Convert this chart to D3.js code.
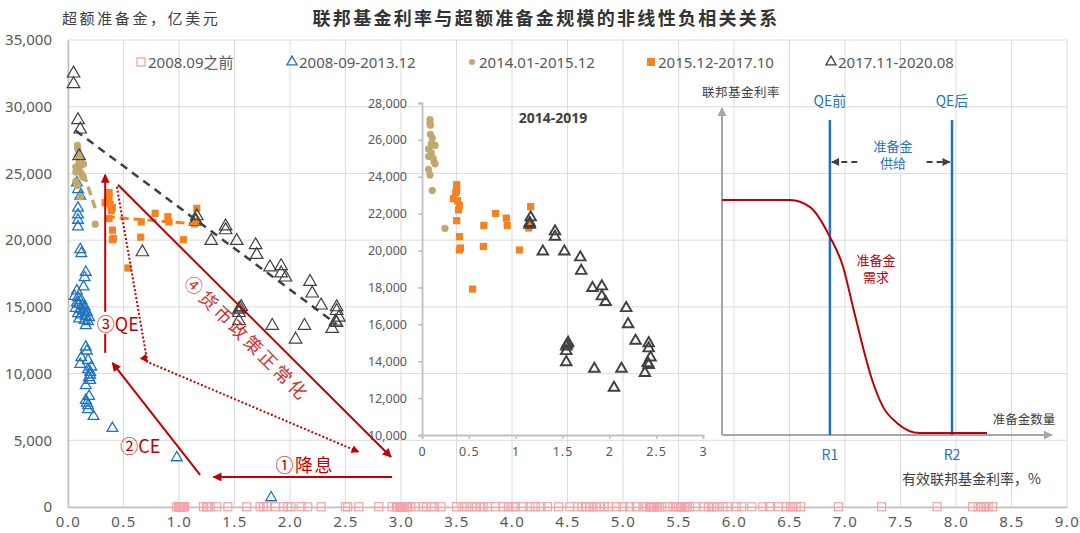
<!DOCTYPE html>
<html lang="zh">
<head>
<meta charset="UTF-8">
<title>联邦基金利率与超额准备金规模</title>
<script src="https://cdn.jsdelivr.net/npm/d3@7"></script>
<style>
  body { margin: 0; background: #fff; }
  svg { display: block; font-family: "Noto Sans CJK SC", "Noto Sans", sans-serif; }
</style>
</head>
<body>
<div id="chart"></div>
<script>
// ---- data: [effective fed funds rate %, excess reserves 亿美元] ----
const pre2008 = [
  [0.98,15],[1.0,22],[1.0,18],[1.01,30],[1.0,12],[1.02,25],[1.03,20],[1.0,35],[1.01,16],[1.04,28],[1.05,14],
  [1.22,20],[1.25,26],[1.26,15],[1.28,33],[1.34,18],[1.44,22],[1.61,17],[1.73,24],[1.76,19],[1.79,31],
  [1.87,15],[1.94,21],[1.98,27],[2.01,16],[2.1,23],[2.16,18],[2.28,20],[2.5,25],[2.52,14],[2.62,19],[2.8,22],
  [2.92,17],[2.96,24],[2.97,13],[2.99,28],[3.0,18],[3.0,22],[3.0,15],[3.01,30],[3.02,19],[3.03,25],[3.05,16],
  [3.06,21],[3.09,27],[3.13,18],[3.2,23],[3.23,15],[3.27,29],[3.3,20],[3.36,17],
  [3.5,22],[3.55,18],[3.59,26],[3.64,14],[3.68,21],[3.72,19],[3.74,28],[3.78,16],[3.85,23],
  [3.92,18],[3.97,25],[4.01,15],[4.03,22],[4.1,20],[4.16,17],[4.21,27],[4.26,19],[4.32,23],
  [4.42,16],[4.52,21],[4.59,18],[4.63,25],[4.67,14],[4.7,22],[4.73,19],[4.76,27],[4.79,16],[4.83,23],[4.87,20],
  [4.94,17],[5.0,24],[5.06,15],[5.12,21],[5.18,18],[5.21,26],[5.24,20],[5.25,14],[5.26,23],[5.27,17],[5.28,29],
  [5.3,19],[5.31,22],[5.33,16],[5.35,25],[5.4,18],[5.45,21],[5.48,15],[5.5,27],[5.52,19],[5.53,23],[5.55,17],
  [5.56,20],[5.58,26],[5.6,14],[5.65,22],[5.73,18],[5.77,25],[5.8,16],[5.82,21],[5.85,19],[5.9,27],[5.94,15],
  [6.02,23],[6.07,18],[6.16,20],[6.26,17],[6.32,24],[6.4,19],[6.47,22],[6.51,16],[6.53,25],[6.56,18],[6.6,21],
  [6.94,20],[7.33,18],[7.83,22],[8.15,19],[8.2,24],[8.23,16],[8.25,21],[8.27,27],[8.29,18],[8.33,23]
]

const crisisQE = [
  [0.08,24300],[0.09,23800],[0.11,23300],[0.09,22400],[0.09,21900],[0.09,21500],[0.09,21000],
  [0.11,19300],[0.12,19000],[0.16,17600],[0.15,17200],[0.14,16500],[0.08,16200],
  [0.06,15800],[0.09,15700],[0.12,15500],[0.08,15300],[0.1,15200],[0.13,15100],[0.15,15000],[0.07,14900],
  [0.11,14800],[0.14,14700],[0.17,14600],[0.09,14500],[0.12,14400],[0.16,14300],[0.19,14200],[0.1,14100],
  [0.15,14000],[0.18,13900],[0.16,13600],
  [0.16,12000],[0.17,11700],[0.12,11200],[0.18,11000],[0.11,10700],[0.21,10500],[0.18,10300],[0.2,10100],
  [0.2,9900],[0.19,9700],[0.2,9500],[0.16,9100],[0.19,8300],[0.16,8000],[0.17,7800],[0.18,7600],[0.18,7300],
  [0.23,6800],[0.4,5900],[0.98,3700],[1.83,700]
]

const y2014_2015 = [
  [0.085,27100],[0.085,26900],[0.09,26800],[0.09,26300],[0.11,26100],[0.1,25800],[0.13,25700],[0.14,25700],
  [0.07,25500],[0.1,25300],[0.07,25100],[0.12,25000],[0.13,24800],[0.14,24700],[0.07,24400],[0.085,24100],
  [0.11,23250],[0.245,21200]
]

const y2015_2017 = [
  [0.37,23570],[0.37,23250],[0.36,23140],[0.335,22810],[0.38,22700],[0.4,22450],[0.39,22200],[0.37,21620],
  [0.4,20750],[0.4,20030],[0.41,20140],[0.54,17910],[0.655,20220],[0.66,21360],[0.785,22010],[0.9,21760],
  [0.91,21360],[1.04,20030],[1.16,22380],[1.14,21220],[1.15,21430]
]

const y2017_2019 = [
  [1.16,21800],[1.15,21500],[1.15,21400],[1.42,21040],[1.42,20750],[1.29,19950],[1.52,19950],[1.69,19630],
  [1.70,18900],[1.82,17970],[1.92,18060],[1.92,17520],[1.96,17210],[2.18,16880],[2.2,16010],[2.28,15110],
  [2.42,14980],[2.42,14700],[2.44,14200],[2.41,13900],[2.42,13800],[2.38,13360],[1.54,14800],[1.55,14900],
  [1.56,15000],[1.54,14550],[1.54,13950],[1.84,13590],[2.13,13590],[2.05,12560]
]
const y2020 = [[0.05,32500],[0.05,31700],[0.09,29000],[0.11,28300],[0.1,26300],[0.67,19100]]

// dashed trend lines
const trendGold = [[0.1,26000],[0.245,22400]]
const trendOrange = [[0.34,21750],[1.18,21200]]
const trendDark = [[0.07,28200],[2.42,13700]]

const xTicks = [0,0.5,1,1.5,2,2.5,3,3.5,4,4.5,5,5.5,6,6.5,7,7.5,8,8.5,9]
const yTicks = [0,5000,10000,15000,20000,25000,30000,35000]
const insetXTicks = [0,0.5,1,1.5,2,2.5,3]
const insetYTicks = [10000,12000,14000,16000,18000,20000,22000,24000,26000,28000]

const legendItems = ['2008.09之前','2008-09-2013.12','2014.01-2015.12','2015.12-2017.10','2017.11-2020.08']

// schematic: reserve demand curve (concept units 0-10)
const demandCurve = [[0,7.19],[2.06,7.19],[2.67,6.97],[3.27,6.06],[3.67,5.14],[3.97,3.91],[4.27,2.69],
  [4.55,1.68],[4.88,0.86],[5.3,0.37],[6.0,0.06],[8.03,0.06]]
const supplyLines = [{name:'R1', top:'QE前', at:3.27}, {name:'R2', top:'QE后', at:6.97}]

// ---- setup ----
const W = 1080, H = 533
const svg = d3.select('#chart').append('svg').attr('width', W).attr('height', H)

const x = d3.scaleLinear().domain([0, 9]).range([68, 1067])
const y = d3.scaleLinear().domain([0, 35000]).range([507, 40])
const ix = d3.scaleLinear().domain([0, 3]).range([422, 703])
const iy = d3.scaleLinear().domain([10000, 28000]).range([435, 103])
const cx = d3.scaleLinear().domain([0, 10]).range([722, 1052])
const cy = d3.scaleLinear().domain([0, 10]).range([435, 108])

const RED = '#c00000', BLUE = '#1f74c2', PINK = '#f4a3a8', GOLD = '#bfa96c', ORANGE = '#f58220', DARK = '#404040'
const GRID = '#dcdcdc', AXIS = '#bfbfbf', LABEL = '#595959'

const defs = svg.append('defs')
function arrowMarker(id, color, w, h) {
  defs.append('marker').attr('id', id)
    .attr('viewBox', '0 0 10 10').attr('refX', 9).attr('refY', 5)
    .attr('markerWidth', w).attr('markerHeight', h)
    .attr('markerUnits', 'userSpaceOnUse').attr('orient', 'auto')
    .append('path').attr('d', 'M0,0L10,5L0,10z').attr('fill', color)
}
arrowMarker('arRed', RED, 11, 9)
arrowMarker('arRedSmall', RED, 9, 8)
arrowMarker('arGray', '#a6a6a6', 11, 9)
arrowMarker('arDark', DARK, 9, 8)

// ---- titles ----
svg.append('text').attr('x', 62).attr('y', 24)
  .attr('font-size', 15).attr('letter-spacing', 2.6).attr('fill', DARK)
  .text('超额准备金，亿美元')
svg.append('text').attr('x', 546).attr('y', 25).attr('text-anchor', 'middle')
  .attr('font-size', 18).attr('font-weight', 'bold').attr('letter-spacing', 2.3).attr('fill', '#333')
  .text('联邦基金利率与超额准备金规模的非线性负相关关系')

// ---- grid ----
const grid = svg.append('g')
grid.selectAll('.gx').data(xTicks).join('line')
  .attr('x1', d => x(d)).attr('x2', d => x(d)).attr('y1', y(35000)).attr('y2', y(0))
  .attr('stroke', GRID)
grid.selectAll('.gy').data(yTicks).join('line')
  .attr('x1', x(0)).attr('x2', x(9)).attr('y1', d => y(d)).attr('y2', d => y(d))
  .attr('stroke', GRID)

// ---- main axes ----
const xAxis = svg.append('g').attr('transform', `translate(0,${y(0)})`)
  .call(d3.axisBottom(x).tickValues(xTicks).tickFormat(d3.format('.1f')).tickSize(0).tickPadding(9))
const yAxis = svg.append('g').attr('transform', `translate(${x(0)},0)`)
  .call(d3.axisLeft(y).tickValues(yTicks).tickFormat(d3.format(',')).tickSize(0).tickPadding(16))
;[xAxis, yAxis].forEach(a => {
  a.select('.domain').attr('stroke', AXIS).attr('stroke-width', 1.5)
  a.selectAll('text').attr('font-size', 15).attr('fill', LABEL).attr('font-family', '"Noto Sans", sans-serif')
})
xAxis.selectAll('text').attr('letter-spacing', 1.5)

// ---- legend ----
const legX = [141, 292, 472, 651, 831]
const leg = svg.append('g').attr('transform', 'translate(0,62)')
legendItems.forEach((t, i) => {
  const g = leg.append('g').attr('transform', `translate(${legX[i]},0)`)
  if (i === 0) g.append('rect').attr('x', -4).attr('y', -4).attr('width', 8).attr('height', 8).attr('fill', 'none').attr('stroke', PINK).attr('stroke-width', 1.3)
  if (i === 1) g.append('path').attr('d', d3.symbol(d3.symbolTriangle, 45)()).attr('fill', 'none').attr('stroke', BLUE).attr('stroke-width', 1.3)
  if (i === 2) g.append('circle').attr('r', 3).attr('fill', GOLD)
  if (i === 3) g.append('rect').attr('x', -4).attr('y', -4).attr('width', 8).attr('height', 8).attr('fill', ORANGE)
  if (i === 4) g.append('path').attr('d', d3.symbol(d3.symbolTriangle, 45)()).attr('fill', 'none').attr('stroke', DARK).attr('stroke-width', 1.3)
  g.append('text').attr('x', 7).attr('y', 5.5).attr('font-size', 15).attr('fill', LABEL)
    .attr('font-family', '"Noto Sans", "Noto Sans CJK SC", sans-serif').text(t)
})

// ---- main scatter ----
const tri = d3.symbol(d3.symbolTriangle, 50)
const triBig = d3.symbol(d3.symbolTriangle, 68)
svg.append('g').selectAll('rect').data(pre2008).join('rect')
  .attr('x', d => x(d[0]) - 4).attr('y', d => y(d[1]) - 4).attr('width', 8).attr('height', 8)
  .attr('fill', 'none').attr('stroke', PINK).attr('stroke-width', 1.2)
svg.append('g').selectAll('path').data(crisisQE).join('path')
  .attr('transform', d => `translate(${x(d[0])},${y(d[1])})`).attr('d', tri)
  .attr('fill', 'none').attr('stroke', BLUE).attr('stroke-width', 1.3)
svg.append('g').selectAll('circle').data(y2014_2015).join('circle')
  .attr('cx', d => x(d[0])).attr('cy', d => y(d[1])).attr('r', 3.6).attr('fill', GOLD)
svg.append('g').selectAll('rect').data(y2015_2017).join('rect')
  .attr('x', d => x(d[0]) - 3.6).attr('y', d => y(d[1]) - 3.6).attr('width', 7.2).attr('height', 7.2)
  .attr('fill', ORANGE)
svg.append('g').selectAll('path').data(y2017_2019.concat(y2020)).join('path')
  .attr('transform', d => `translate(${x(d[0])},${y(d[1])})`).attr('d', triBig)
  .attr('fill', 'none').attr('stroke', DARK).attr('stroke-width', 1.2)

const line = d3.line().x(d => x(d[0])).y(d => y(d[1]))
svg.append('path').attr('d', line(trendGold)).attr('stroke', GOLD).attr('stroke-width', 3.5)
  .attr('stroke-dasharray', '9,5').attr('fill', 'none')
svg.append('path').attr('d', line(trendOrange)).attr('stroke', ORANGE).attr('stroke-width', 3)
  .attr('stroke-dasharray', '9,5').attr('fill', 'none')
svg.append('path').attr('d', line(trendDark)).attr('stroke', DARK).attr('stroke-width', 2.5)
  .attr('stroke-dasharray', '8,6').attr('fill', 'none')

// ---- inset 2014-2019 ----
const inset = svg.append('g')
const ixAxis = inset.append('g').attr('transform', `translate(0,${iy(10000)})`)
  .call(d3.axisBottom(ix).tickValues(insetXTicks).tickFormat(d => d).tickSize(4).tickSizeOuter(4).tickPadding(8))
const iyAxis = inset.append('g').attr('transform', `translate(${ix(0)},0)`)
  .call(d3.axisLeft(iy).tickValues(insetYTicks).tickFormat(d3.format(',')).tickSize(4).tickSizeOuter(4).tickPadding(11))
;[ixAxis, iyAxis].forEach(a => {
  a.select('.domain').attr('stroke', AXIS).attr('stroke-width', 1.8)
  a.selectAll('line').attr('stroke', AXIS).attr('stroke-width', 1.5)
  a.selectAll('text').attr('font-size', 12.5).attr('fill', LABEL).attr('font-family', '"Noto Sans", sans-serif')
})
ixAxis.selectAll('text').attr('letter-spacing', 1)
inset.append('text').attr('x', 553).attr('y', 123).attr('text-anchor', 'middle')
  .attr('font-size', 14).attr('font-weight', 'bold').attr('fill', DARK).attr('font-family', '"Noto Sans", sans-serif')
  .text('2014-2019')
inset.append('g').selectAll('circle').data(y2014_2015).join('circle')
  .attr('cx', d => ix(d[0])).attr('cy', d => iy(d[1])).attr('r', 3.6).attr('fill', GOLD)
inset.append('g').selectAll('rect').data(y2015_2017).join('rect')
  .attr('x', d => ix(d[0]) - 3.6).attr('y', d => iy(d[1]) - 3.6).attr('width', 7.2).attr('height', 7.2)
  .attr('fill', ORANGE)
inset.append('g').selectAll('path').data(y2017_2019).join('path')
  .attr('transform', d => `translate(${ix(d[0])},${iy(d[1])})`).attr('d', d3.symbol(d3.symbolTriangle, 48))
  .attr('fill', 'none').attr('stroke', DARK).attr('stroke-width', 1.9)

// ---- red policy annotations (in chart units) ----
const ann = svg.append('g')
function arrow(pts, opts) {
  const p = ann.append('path').attr('d', line(pts)).attr('fill', 'none')
    .attr('stroke', RED).attr('stroke-width', opts.w || 2)
    .attr('marker-end', `url(#${opts.marker || 'arRed'})`)
  if (opts.dash) p.attr('stroke-dasharray', opts.dash)
  if (opts.mid) p.attr('marker-mid', `url(#${opts.marker})`)
  return p
}
arrow([[2.92, 2250], [1.31, 2250]], {})
arrow([[1.19, 2400], [0.4, 10800]], {})
arrow([[0.335, 11550], [0.335, 24900]], {})
arrow([[0.45, 24150], [2.91, 3750]], {})
arrow([[0.44, 24000], [0.715, 10875], [2.62, 4125]], {dash: '2,2', mid: true, marker: 'arRedSmall'})

function redLabel(t, px, py, size) {
  return ann.append('text').attr('x', x(px)).attr('y', y(py)).attr('font-size', size)
    .attr('fill', RED).attr('dominant-baseline', 'central').text(t)
}
redLabel('①降息', 1.87, 3250, 18).attr('letter-spacing', 1.5)
redLabel('②CE', 0.47, 4650, 18)
const qeBg = ann.append('rect').attr('x', x(0.26)).attr('y', y(13800) - 11).attr('width', 40).attr('height', 22).attr('fill', '#fff')
redLabel('③QE', 0.26, 13800, 18)
ann.append('text')
  .attr('transform', `translate(${x(1.62)},${y(12700)}) rotate(45)`)
  .attr('text-anchor', 'middle').attr('dominant-baseline', 'central')
  .attr('font-size', 18).attr('letter-spacing', 3).attr('fill', '#d03232')
  .text('④货币政策正常化')

// ---- schematic: reserve supply & demand ----
const sc = svg.append('g')
sc.append('line').attr('x1', cx(0)).attr('x2', cx(0)).attr('y1', cy(0)).attr('y2', cy(10))
  .attr('stroke', '#a6a6a6').attr('stroke-width', 2).attr('marker-end', 'url(#arGray)')
sc.append('line').attr('x1', cx(0)).attr('x2', cx(10)).attr('y1', cy(0)).attr('y2', cy(0))
  .attr('stroke', '#a6a6a6').attr('stroke-width', 2).attr('marker-end', 'url(#arGray)')
sc.append('text').attr('x', cx(0) - 20).attr('y', cy(10.35)).attr('font-size', 12.5).attr('fill', DARK)
  .attr('letter-spacing', 0.5).text('联邦基金利率')
sc.append('text').attr('x', cx(10.1)).attr('y', cy(0.33)).attr('text-anchor', 'end')
  .attr('font-size', 12.5).attr('fill', DARK).text('准备金数量')

sc.selectAll('.sup').data(supplyLines).join('line')
  .attr('x1', d => cx(d.at)).attr('x2', d => cx(d.at)).attr('y1', cy(0)).attr('y2', cy(9.63))
  .attr('stroke', BLUE).attr('stroke-width', 2.5)
sc.selectAll('.supT').data(supplyLines).join('text')
  .attr('x', d => cx(d.at)).attr('y', cy(10.05)).attr('text-anchor', 'middle')
  .attr('font-size', 14).attr('fill', BLUE).text(d => d.top)
sc.selectAll('.supB').data(supplyLines).join('text')
  .attr('x', d => cx(d.at)).attr('y', cy(-0.75)).attr('text-anchor', 'middle')
  .attr('font-size', 14).attr('fill', BLUE).text(d => d.name)

sc.append('path')
  .attr('d', d3.line().x(d => cx(d[0])).y(d => cy(d[1])).curve(d3.curveMonotoneX)(demandCurve))
  .attr('fill', 'none').attr('stroke', RED).attr('stroke-width', 2)

sc.append('line').attr('x1', cx(4.1)).attr('x2', cx(3.33)).attr('y1', cy(8.35)).attr('y2', cy(8.35))
  .attr('stroke', DARK).attr('stroke-width', 2).attr('stroke-dasharray', '6,4').attr('marker-end', 'url(#arDark)')
sc.append('line').attr('x1', cx(6.2)).attr('x2', cx(6.9)).attr('y1', cy(8.35)).attr('y2', cy(8.35))
  .attr('stroke', DARK).attr('stroke-width', 2).attr('stroke-dasharray', '6,4').attr('marker-end', 'url(#arDark)')
sc.append('text').attr('x', cx(5.18)).attr('y', cy(8.67)).attr('text-anchor', 'middle')
  .attr('font-size', 13).attr('fill', BLUE).text('准备金')
sc.append('text').attr('x', cx(5.18)).attr('y', cy(8.15)).attr('text-anchor', 'middle')
  .attr('font-size', 13).attr('fill', BLUE).text('供给')
sc.append('text').attr('x', cx(4.67)).attr('y', cy(5.2)).attr('text-anchor', 'middle')
  .attr('font-size', 13).attr('fill', RED).text('准备金')
sc.append('text').attr('x', cx(4.67)).attr('y', cy(4.68)).attr('text-anchor', 'middle')
  .attr('font-size', 13).attr('fill', RED).text('需求')

// x-axis title of the main chart
svg.append('text').attr('x', 902).attr('y', 484).attr('font-size', 14).attr('fill', DARK)
  .text('有效联邦基金利率，%')
</script>
</body>
</html>
